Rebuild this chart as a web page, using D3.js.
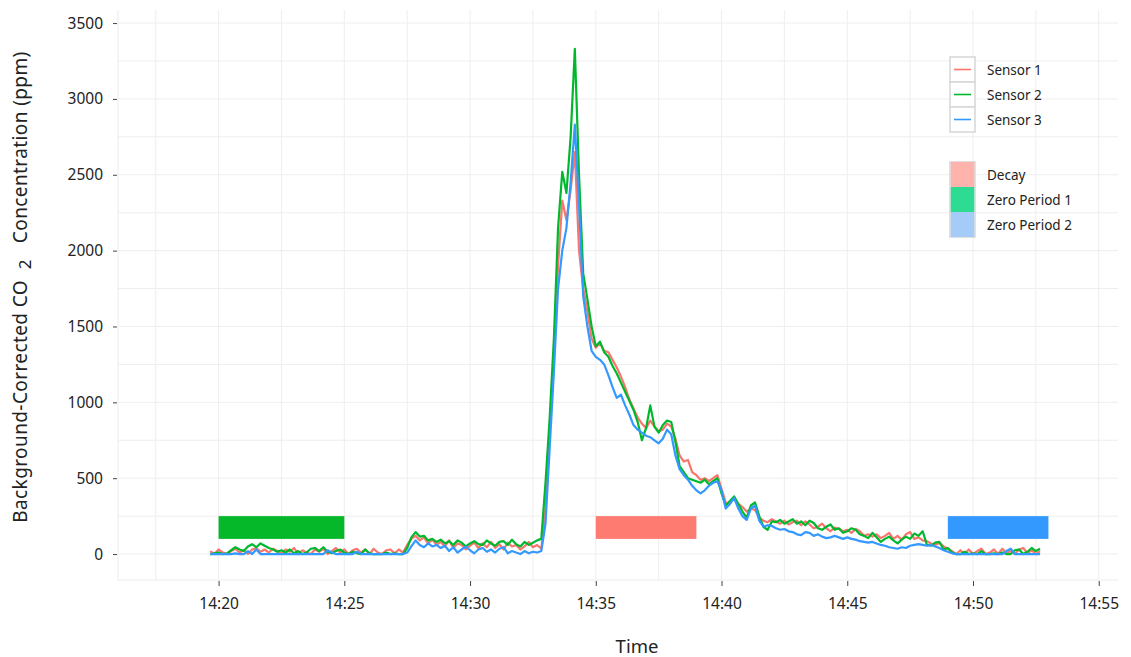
<!DOCTYPE html>
<html><head><meta charset="utf-8">
<script src="https://cdn.jsdelivr.net/npm/d3@7"></script>
<style>body{margin:0;background:#fff;} text{font-family:"Noto Sans","Open Sans",sans-serif;}</style>
</head><body>
<svg id="c" width="1131" height="657"></svg>
<script>
// ---- data (10-second readings starting 14:19:40) ----
const startTime = [14, 19, 40];
const stepSeconds = 10;
const sensorNames = ["Sensor 1", "Sensor 2", "Sensor 3"];
const sensor1 = [
 20,0,
 30,10,0,20,35,10,  25,0,30,40,15,30,  10,35,20,5,30,15,  40,0,25,10,0,30,
 15,35,0,20,40,10,  30,0,25,35,10,30,  0,35,10,0,25,30,   5,30,10,60,100,120,
 90,110,70,95,60,80, 50,90,40,70,60,30, 55,75,40,70,45,80, 40,65,30,75,50,60,
 30,50,80,45,60,35,
 300,800,1300,1900,2330,2200,
 2400,2650,2000,1750,1600,1420,
 1360,1390,1340,1330,1280,1230,
 1170,1100,1020,960,900,860,
 830,880,840,810,820,860,
 840,760,650,610,620,540,
 520,490,500,480,500,520,
 430,340,330,370,330,310,
 280,300,290,240,220,210,
 230,215,200,220,195,210,
 220,190,215,195,170,180,
 200,170,150,175,165,150,
 160,140,165,150,120,130,
 115,130,105,120,140,100,
 120,95,130,145,100,110,
 90,85,70,60,75,50,
 35,20,0,25,0,30,
 0,20,35,0,10,30,
 0,35,5,20,0,30,
 40,5,25,0,20
];
const sensor2 = [
 0,5,
 10,0,5,25,45,30,  20,50,65,45,70,55,  40,30,15,25,10,30,  5,20,0,10,35,40,
 20,45,15,5,20,30,  10,0,15,5,0,30,  5,0,0,0,10,0,  5,0,0,40,110,145,
 115,120,90,100,80,95, 70,85,60,90,75,50, 70,85,65,60,90,70, 55,80,85,60,95,65,
 50,80,60,75,90,100,
 470,900,1420,2150,2520,2380,
 2750,3330,2500,1850,1680,1500,
 1370,1400,1330,1300,1240,1190,
 1130,1070,1010,950,870,750,
 830,980,840,800,850,880,
 870,740,580,540,500,490,
 480,470,490,460,480,500,
 400,320,350,380,330,280,
 240,320,340,250,180,160,
 215,210,225,200,215,230,
 200,215,190,220,205,170,
 160,180,195,160,170,140,
 150,170,160,130,120,105,
 140,110,80,100,115,90,
 70,95,115,100,135,120,
 150,60,55,75,80,30,
 40,10,0,0,15,0,
 5,0,20,0,0,5,
 0,10,0,0,25,30,
 0,15,40,20,35
];
const sensor3 = [
 0,0,
 0,0,0,0,5,0,  0,20,0,30,0,0,  0,0,0,0,0,0,  0,0,0,0,0,0,
 0,0,25,10,0,0,  0,0,0,15,0,0,  0,0,0,0,0,0,  0,0,0,10,50,90,
 60,45,70,50,60,40, 55,20,45,10,30,50, 25,5,30,40,15,30, 10,35,45,5,20,10,
 0,20,5,15,10,20,
 200,700,1200,1750,2000,2150,
 2450,2830,2300,1700,1500,1340,
 1300,1280,1250,1180,1100,1030,
 1050,980,920,850,820,800,
 780,770,750,730,760,820,
 790,650,560,520,490,450,
 420,400,420,450,470,480,
 420,300,330,370,300,250,
 225,300,320,220,180,190,
 185,170,160,165,150,145,
 130,125,145,140,120,130,
 115,105,110,120,110,100,
 110,100,95,85,80,75,
 80,70,60,55,45,40,
 35,45,40,55,60,65,
 60,55,60,50,40,25,
 15,5,0,0,0,0,
 0,0,0,0,0,0,
 0,0,20,35,0,0,
 0,0,0,0,0
];
const lineColors = ["#f8766d", "#00b82e", "#3399ff"];

const periodNames = ["Decay", "Zero Period 1", "Zero Period 2"];
const periodStart = ["14:35", "14:20", "14:49"];
const periodEnd = ["14:39", "14:25", "14:53"];
const periodLow = [100, 100, 100];
const periodHigh = [250, 250, 250];
const periodColors = ["#fd7b70", "#04b82a", "#3399ff"];
const periodLegendColors = ["#ffb3ad", "#2edb93", "#a5cbf8"];

const yTicks = [0, 500, 1000, 1500, 2000, 2500, 3000, 3500];
const xTickLabels = ["14:20", "14:25", "14:30", "14:35", "14:40", "14:45", "14:50", "14:55"];

// ---- helpers ----
const hm = s => { const [h, m] = s.split(":").map(Number); return new Date(2020, 0, 1, h, m, 0); };
const t0 = new Date(2020, 0, 1, startTime[0], startTime[1], startTime[2]);
const timeAt = i => new Date(t0.getTime() + i * stepSeconds * 1000);

const svg = d3.select("#c");
const L = 118, R = 1118, T = 10, B = 580;
const x = d3.scaleTime().domain([new Date(2020,0,1,14,16,0), new Date(2020,0,1,14,55,46)]).range([L, R]);
const y = d3.scaleLinear().domain([-171, 3586]).range([B, T]);

// grid
const g = svg.append("g");
const vGrid = [];
for (let m = 17.5; m <= 55; m += 2.5) vGrid.push(new Date(2020,0,1,14,0, m*60));
g.selectAll("line.v").data(vGrid).join("line")
  .attr("x1", d => x(d)).attr("x2", d => x(d)).attr("y1", T).attr("y2", B)
  .attr("stroke", "#eeeeee").attr("stroke-width", 1);
const hGrid = d3.range(0, 3501, 250);
g.selectAll("line.h").data(hGrid).join("line")
  .attr("x1", L).attr("x2", R).attr("y1", d => y(d)).attr("y2", d => y(d))
  .attr("stroke", "#eeeeee").attr("stroke-width", 1);
g.append("line").attr("x1", L).attr("x2", R).attr("y1", B).attr("y2", B).attr("stroke", "#ececec");
g.append("line").attr("x1", L).attr("x2", L).attr("y1", T).attr("y2", B).attr("stroke", "#ececec");

// axes
const yAxis = d3.axisLeft(y).tickValues(yTicks).tickSize(4).tickPadding(10).tickFormat(d3.format("d"));
const ya = svg.append("g").attr("transform", `translate(${L-1},0)`).call(yAxis);
ya.select(".domain").remove();
ya.selectAll(".tick line").attr("stroke", "#444");
ya.selectAll(".tick text").attr("font-size", 15.5).attr("fill", "#222").attr("font-family", "Noto Sans");

const xAxis = d3.axisBottom(x).tickValues(xTickLabels.map(hm)).tickSize(5).tickPadding(12)
  .tickFormat((d, i) => xTickLabels[i]);
const xa = svg.append("g").attr("transform", `translate(0,${B+1})`).call(xAxis);
xa.select(".domain").remove();
xa.selectAll(".tick line").attr("stroke", "#444");
xa.selectAll(".tick text").attr("font-size", 15.5).attr("fill", "#222").attr("font-family", "Noto Sans");

// period rects
svg.append("g").selectAll("rect").data(periodNames).join("rect")
  .attr("x", (d, i) => x(hm(periodStart[i])))
  .attr("width", (d, i) => x(hm(periodEnd[i])) - x(hm(periodStart[i])))
  .attr("y", (d, i) => y(periodHigh[i]))
  .attr("height", (d, i) => y(periodLow[i]) - y(periodHigh[i]))
  .attr("fill", (d, i) => periodColors[i]);

// lines
const series = [sensor1, sensor2, sensor3];
const line = d3.line().x((d, i) => x(timeAt(i))).y(d => y(d));
svg.append("g").selectAll("path").data(series).join("path")
  .attr("d", d => line(d)).attr("fill", "none")
  .attr("stroke", (d, i) => lineColors[i]).attr("stroke-width", 2.2).attr("stroke-linejoin", "round");

// axis titles
svg.append("text").attr("x", 637).attr("y", 653).attr("text-anchor", "middle")
  .attr("font-size", 18.5).attr("fill", "#222").text("Time");
const yt = svg.append("text").attr("transform", "translate(27,287) rotate(-90)")
  .attr("text-anchor", "middle").attr("font-size", 19).attr("letter-spacing", 0.4).attr("fill", "#222")
  .attr("xml:space", "preserve");
yt.append("tspan").text("Background-Corrected CO  ");
yt.append("tspan").attr("dy", 4).attr("font-size", 17).text("2");
yt.append("tspan").attr("dy", -4).text("   Concentration (ppm)");

// legend 1
const lg = svg.append("g");
const lx = 950, ly1 = 57, lh = 25, lw = 25;
sensorNames.forEach((n, i) => {
  lg.append("rect").attr("x", lx).attr("y", ly1 + i*lh).attr("width", lw).attr("height", lh)
    .attr("fill", "#fff").attr("stroke", "#d6d6d6").attr("stroke-width", 1.5);
  lg.append("line").attr("x1", lx+4).attr("x2", lx+lw-4).attr("y1", ly1 + i*lh + lh/2).attr("y2", ly1 + i*lh + lh/2)
    .attr("stroke", lineColors[i]).attr("stroke-width", 1.6);
  lg.append("text").attr("x", 987).attr("y", ly1 + i*lh + lh/2 + 5).attr("font-size", 13.5).attr("fill", "#222").text(n);
});
const ly2 = 162;
lg.append("rect").attr("x", lx).attr("y", ly2).attr("width", lw).attr("height", lh*3)
  .attr("fill", "none").attr("stroke", "#d6d6d6").attr("stroke-width", 1.5);
periodNames.forEach((n, i) => {
  lg.append("rect").attr("x", lx+0.75).attr("y", ly2 + i*lh).attr("width", lw-1.5).attr("height", lh)
    .attr("fill", periodLegendColors[i]);
  lg.append("text").attr("x", 987).attr("y", ly2 + i*lh + lh/2 + 5).attr("font-size", 13.5).attr("fill", "#222").text(n);
});
</script>
</body></html>
